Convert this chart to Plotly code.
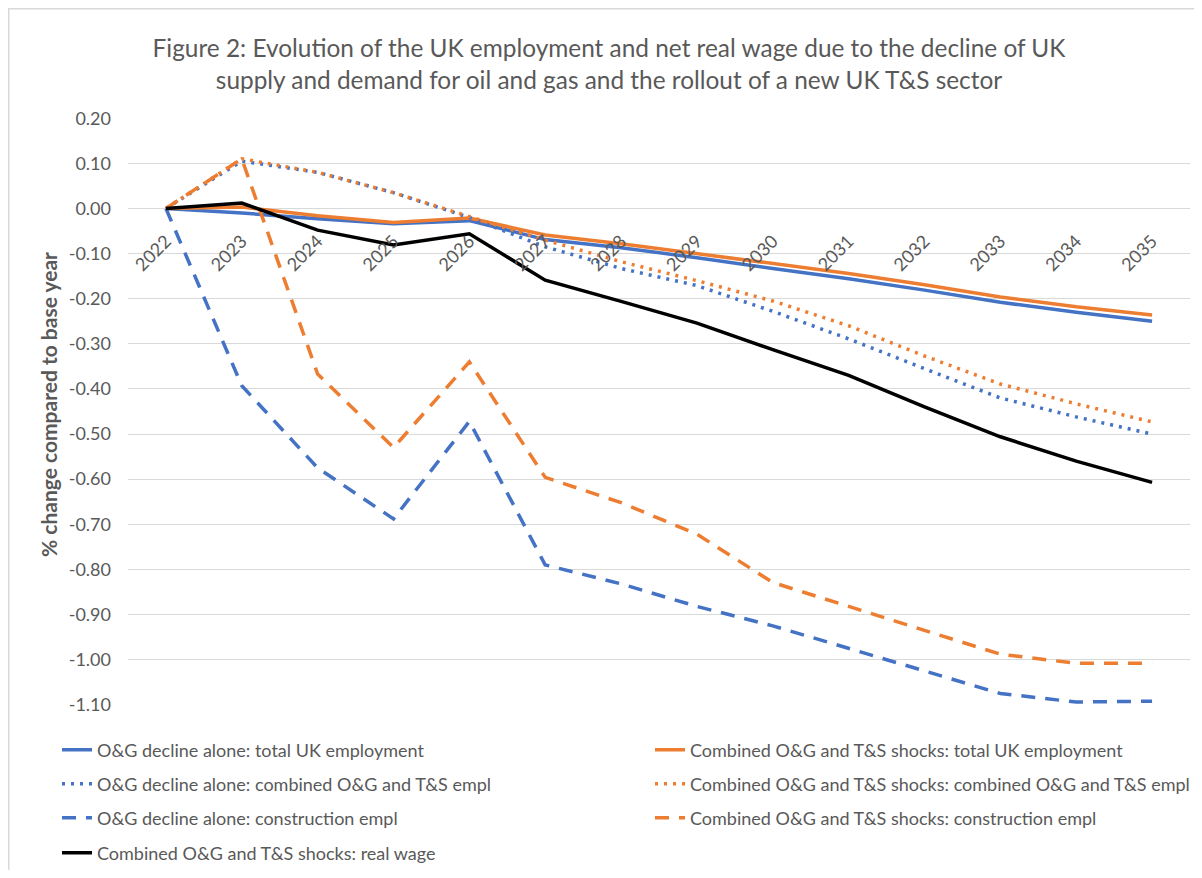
import plotly.graph_objects as go

years = [2022, 2023, 2024, 2025, 2026, 2027, 2028, 2029, 2030, 2031, 2032, 2033, 2034, 2035]
year_labels = [str(y) for y in years]

og_total = [0, -0.010, -0.023, -0.034, -0.027, -0.069, -0.087, -0.109, -0.133, -0.156, -0.181, -0.208, -0.230, -0.250]
comb_total = [0, 0.003, -0.016, -0.031, -0.021, -0.059, -0.078, -0.100, -0.121, -0.144, -0.169, -0.196, -0.218, -0.236]
og_ts = [0, 0.105, 0.080, 0.035, -0.020, -0.085, -0.133, -0.171, -0.228, -0.289, -0.355, -0.420, -0.462, -0.500]
comb_ts = [0, 0.110, 0.080, 0.035, -0.018, -0.070, -0.118, -0.160, -0.205, -0.260, -0.327, -0.389, -0.433, -0.473]
og_constr = [0, -0.393, -0.575, -0.688, -0.472, -0.790, -0.832, -0.882, -0.925, -0.975, -1.025, -1.075, -1.094, -1.092]
comb_constr = [0, 0.110, -0.367, -0.530, -0.340, -0.596, -0.652, -0.722, -0.829, -0.882, -0.934, -0.988, -1.008, -1.008]
real_wage = [0, 0.012, -0.048, -0.081, -0.056, -0.159, -0.206, -0.254, -0.313, -0.370, -0.440, -0.506, -0.560, -0.607]

y_ticks = [0.20, 0.10, 0.00, -0.10, -0.20, -0.30, -0.40, -0.50, -0.60, -0.70, -0.80, -0.90, -1.00, -1.10]
y_min, y_max = -1.10, 0.20

title_text = ("Figure 2: Evolution of the UK employment and net real wage due to the decline of UK<br>"
              "supply and demand for oil and gas and the rollout of a new UK T&S sector")
y_title = "<b>% change compared to base year</b>"

BLUE = "#4472C4"
ORANGE = "#ED7D31"
BLACK = "#000000"
GREY_TXT = "#595959"
GRID = "#D9D9D9"
FONT = "Lato"

# page offset (default body margin of the html page)
OFF = 8
W, H = 1202 - 2 * OFF, 878 - 2 * OFF
PLOT_L, PLOT_R, PLOT_T, PLOT_B = 128, 1190, 118, 705   # page pixels
ML, MT = PLOT_L - OFF, PLOT_T - OFF
MR = W - (PLOT_R - OFF)
MB = H - (PLOT_B - OFF)
PW, PH = W - ML - MR, H - MT - MB

def px_x(p):   # page px -> paper
    return (p - PLOT_L) / PW

def px_y(p):
    return (PLOT_B - p) / PH

def cont_x(p):  # page px -> container fraction
    return (p - OFF) / W

def cont_y(p):
    return 1 - (p - OFF) / H

DOT = "3px,6px"
DASH = "14px,10px"
# name, values, colour, dash, legend column, legend row
series = [
    ("O&G decline alone: total UK employment", og_total, BLUE, "solid", 0, 0),
    ("Combined O&G and T&S shocks: total UK employment", comb_total, ORANGE, "solid", 1, 0),
    ("O&G decline alone: combined O&G and T&S empl", og_ts, BLUE, DOT, 0, 1),
    ("Combined O&G and T&S shocks: combined O&G and T&S empl", comb_ts, ORANGE, DOT, 1, 1),
    ("O&G decline alone: construction empl", og_constr, BLUE, DASH, 0, 2),
    ("Combined O&G and T&S shocks: construction empl", comb_constr, ORANGE, DASH, 1, 2),
    ("Combined O&G and T&S shocks: real wage", real_wage, BLACK, "solid", 0, 3),
]

col_px = [57, 650]
row_px = [750, 784, 818, 853]

fig = go.Figure()
legends = {}
for i, (name, vals, color, dash, col, row) in enumerate(series):
    key = "legend" if i == 0 else f"legend{i + 1}"
    fig.add_trace(go.Scatter(
        x=years, y=vals, name=name, mode="lines",
        line=dict(color=color, dash=dash, width=3.5),
        legend=key,
    ))
    legends[key] = dict(
        xref="container", yref="container",
        x=cont_x(col_px[col]), y=cont_y(row_px[row]),
        xanchor="left", yanchor="middle",
        bgcolor="rgba(0,0,0,0)",
        font=dict(family=FONT, size=18, color=GREY_TXT),
    )

zero_pos = (0 - y_min) / (y_max - y_min)

fig.update_layout(
    width=W, height=H,
    margin=dict(l=ML, r=MR, t=MT, b=MB, autoexpand=False),
    paper_bgcolor="white", plot_bgcolor="white",
    font=dict(family=FONT, color=GREY_TXT, size=16),
    title=dict(text=title_text, x=cont_x(609), xref="container", xanchor="center",
               y=cont_y(57), yref="container", yanchor="middle",
               font=dict(family=FONT, size=24.4, color=GREY_TXT)),
    showlegend=True,
    xaxis=dict(
        range=[years[0] - 0.5, years[-1] + 0.5],
        tickvals=years, ticktext=year_labels, tickangle=-45,
        showgrid=False, zeroline=False, showline=False, ticks="",
        anchor="free", position=zero_pos, automargin=False,
        tickfont=dict(family=FONT, size=18, color=GREY_TXT),
        ticklabelstandoff=18,
    ),
    yaxis=dict(
        range=[y_min - 0.0005, y_max + 0.0005],
        tickvals=y_ticks, ticktext=[f"{v:.2f}" if abs(v) > 1e-9 else "0.00" for v in y_ticks],
        showgrid=True, gridcolor=GRID, gridwidth=1.2, zeroline=False, showline=False, ticks="",
        tickfont=dict(family=FONT, size=18, color=GREY_TXT),
        ticklabelstandoff=16, automargin=False,
    ),
    annotations=[dict(text=y_title, textangle=-90, xref="paper", yref="paper",
                      x=px_x(48), y=px_y(405), xanchor="center", yanchor="middle",
                      showarrow=False, font=dict(family=FONT, size=21, color=GREY_TXT))],
    shapes=[dict(type="rect", xref="paper", yref="paper",
                 x0=px_x(OFF + 0.75), x1=px_x(1202 + 20), y0=px_y(878 + 20), y1=px_y(OFF + 0.75),
                 line=dict(color=GRID, width=1.5), fillcolor="rgba(0,0,0,0)", layer="below")],
)
fig.update_layout(**legends)

fig.write_html("out.html")
